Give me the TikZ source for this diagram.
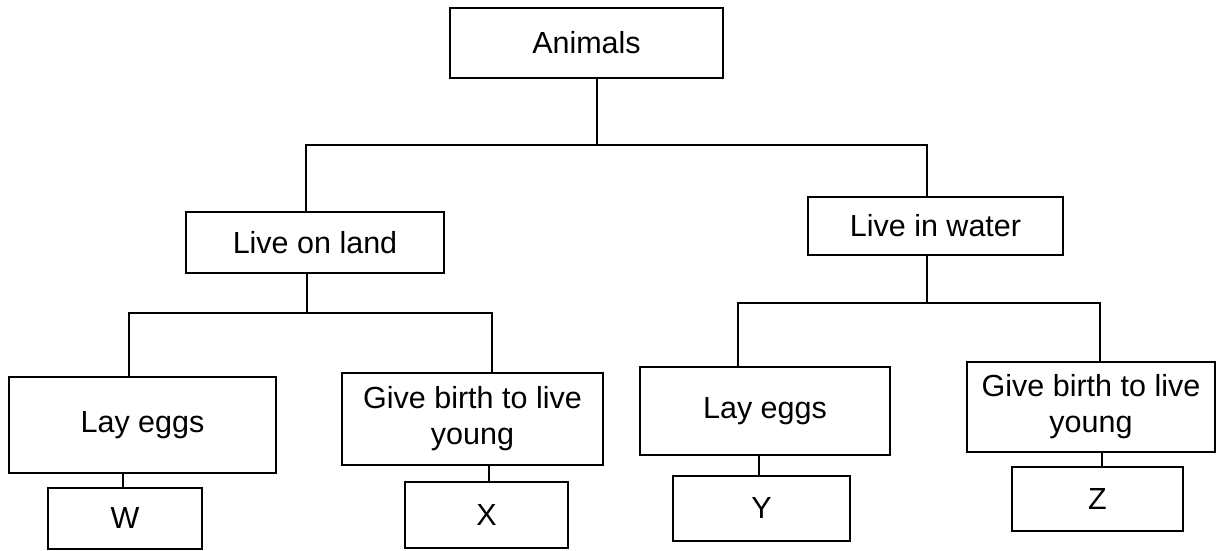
\documentclass[tikz,border=0pt]{standalone}
\usepackage{fontspec}
\setmainfont{Liberation Sans}
\begin{document}
\begin{tikzpicture}[x=1pt,y=-1pt,
  box/.style={draw=black, line width=2.2pt, rectangle, inner sep=0pt, align=center,
    font=\fontsize{30.5}{36}\selectfont},
  conn/.style={draw=black, line width=2.2pt}]
\useasboundingbox[fill=white] (0,0) rectangle (1219,551);
% boxes
\node[box, minimum width=273pt, minimum height=70pt] (animals) at (586.5,43) {Animals};
\node[box, minimum width=258pt, minimum height=61pt] (land) at (315,242.5) {Live on land};
\node[box, minimum width=255pt, minimum height=58pt] (water) at (935.5,226) {Live in water};
\node[box, minimum width=267pt, minimum height=96pt] (legg) at (142.5,425) {Lay eggs};
\node[box, minimum width=261pt, minimum height=92pt] (lbirth) at (472.5,419) {Give birth to live\\young};
\node[box, minimum width=250pt, minimum height=88pt] (wegg) at (765,411) {Lay eggs};
\node[box, minimum width=248pt, minimum height=90pt] (wbirth) at (1091,407) {Give birth to live\\young};
\node[box, minimum width=154pt, minimum height=61pt] (W) at (125,518.5) {W};
\node[box, minimum width=163pt, minimum height=66pt] (X) at (486.5,515) {X};
\node[box, minimum width=177pt, minimum height=65pt] (Y) at (761.5,508.5) {Y};
\node[box, minimum width=171pt, minimum height=64pt] (Z) at (1097.5,499) {Z};
% branch points
\coordinate (j0) at (597,145);
\coordinate (a1) at (306,145);
\coordinate (a2) at (927,145);
\coordinate (b0) at (307,313);
\coordinate (b1) at (129,313);
\coordinate (b2) at (492,313);
\coordinate (c0) at (927,303);
\coordinate (c1) at (738,303);
\coordinate (c2) at (1100,303);
\coordinate (dw) at (123,0);
\coordinate (dx) at (489,0);
\coordinate (dy) at (759,0);
\coordinate (dz) at (1102,0);
% connectors
\draw[conn] (animals.south -| j0) -- (j0);
\draw[conn] (land.north -| a1) -- (a1) -- (a2) -- (water.north -| a2);
\draw[conn] (land.south -| b0) -- (b0);
\draw[conn] (legg.north -| b1) -- (b1) -- (b2) -- (lbirth.north -| b2);
\draw[conn] (water.south -| c0) -- (c0);
\draw[conn] (wegg.north -| c1) -- (c1) -- (c2) -- (wbirth.north -| c2);
\draw[conn] (legg.south -| dw) -- (W.north -| dw);
\draw[conn] (lbirth.south -| dx) -- (X.north -| dx);
\draw[conn] (wegg.south -| dy) -- (Y.north -| dy);
\draw[conn] (wbirth.south -| dz) -- (Z.north -| dz);
\end{tikzpicture}
\end{document}
